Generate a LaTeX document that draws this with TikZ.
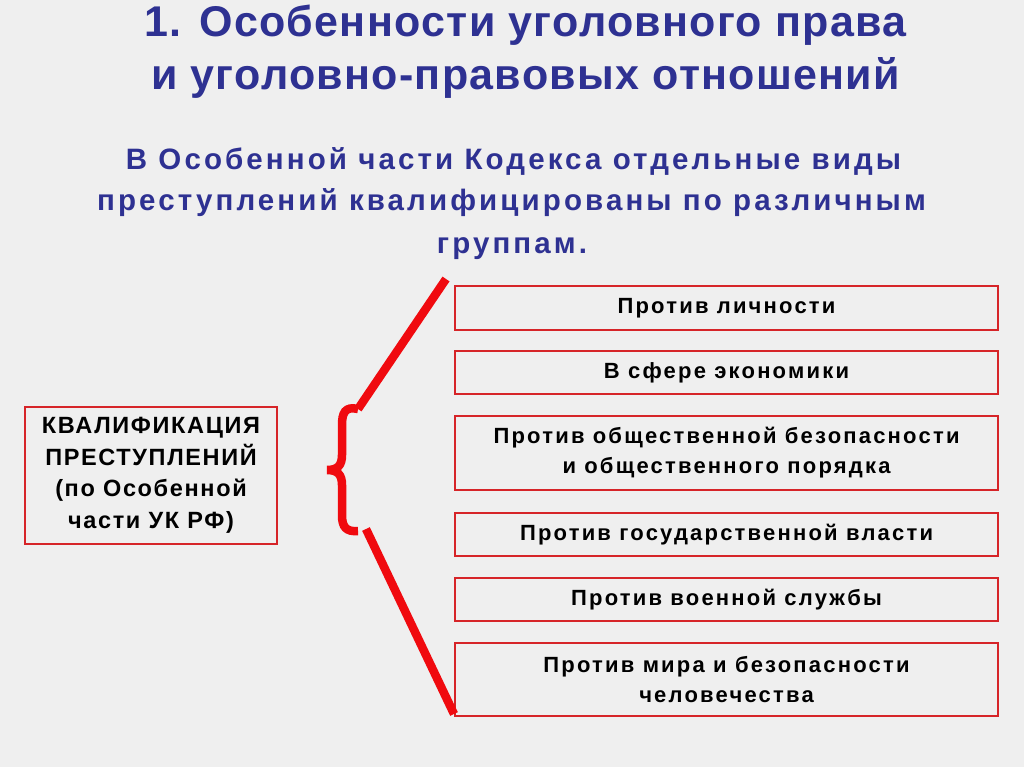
\documentclass[tikz,border=0pt]{standalone}
\usepackage{fontspec}
\setmainfont{Liberation Sans}
\definecolor{bg}{RGB}{239,239,239}
\definecolor{navy}{RGB}{46,49,146}
\definecolor{boxred}{RGB}{214,36,40}
\definecolor{brace}{RGB}{240,10,15}
\tikzset{
  title/.style={anchor=base, text=navy, font=\fontsize{43}{50}\selectfont\bfseries\addfontfeature{LetterSpace=3}, inner sep=0pt},
  sub/.style={anchor=base, text=navy, font=\fontsize{29.5}{42}\selectfont\bfseries\addfontfeature{LetterSpace=10.5}, inner sep=0pt},
  catbox/.style={draw=boxred, line width=2.5pt, fill=bg, minimum width=543pt, align=center,
    font=\fontsize{22}{30}\selectfont\bfseries\addfontfeature{LetterSpace=10}, inner sep=0pt},
  mainbox/.style={draw=boxred, line width=2.5pt, fill=bg, minimum width=252pt, minimum height=137pt,
    align=center, font=\fontsize{23.5}{31.5}\selectfont\bfseries\addfontfeature{LetterSpace=7}, inner sep=0pt},
  bline/.style={draw=brace, line width=8.5pt},
}
\begin{document}
\begin{tikzpicture}[x=1pt,y=-1pt]
\fill[bg] (0,0) rectangle (1024,767);
\useasboundingbox (0,0) rectangle (1024,767);
% titles
\node[title] (t1) at (525.5,37) {1. Особенности уголовного права};
\node[title] (t2) at (525.5,90) {и уголовно-правовых отношений};
\node[sub] (s1) at (513.5,170) {В Особенной части Кодекса отдельные виды};
\node[sub] (s2) at (511.5,211) {преступлений квалифицированы по различным};
\node[sub] (s3) at (512,253) {группам.};
% left box
\node[mainbox] (main) at (151,475.5) {КВАЛИФИКАЦИЯ\\ПРЕСТУПЛЕНИЙ\\(по Особенной\\части УК РФ)};
% right boxes
\node[catbox, minimum height=44pt] (c1) at (726.5,308) {Против личности};
\node[catbox, minimum height=43pt] (c2) at (726.5,372.5) {В сфере экономики};
\node[catbox, minimum height=74pt] (c3) at (726.5,453) {Против общественной безопасности\\и общественного порядка};
\node[catbox, minimum height=43pt] (c4) at (726.5,534.5) {Против государственной власти};
\node[catbox, minimum height=43pt] (c5) at (726.5,599.5) {Против военной службы};
\node[catbox, minimum height=73pt] (c6) at (726.5,679.5) {Против мира и безопасности\\человечества};
% brace
\coordinate (btop) at (358,409);
\coordinate (bbot) at (358,531);
\coordinate (ltop) at (446,279);
\coordinate (lbot) at (454,714);
\coordinate (lbotstart) at (366,529);
\draw[bline] (btop) .. controls (345,406) and (342,413) .. (342,425) -- (342,455)
  .. controls (342,466) and (337,470) .. (327,470)
  .. controls (337,470) and (342,474) .. (342,485) -- (342,515)
  .. controls (342,527) and (346,532) .. (bbot);
\draw[bline] (btop) -- (ltop);
\draw[bline] (lbotstart) -- (lbot);
\end{tikzpicture}
\end{document}
